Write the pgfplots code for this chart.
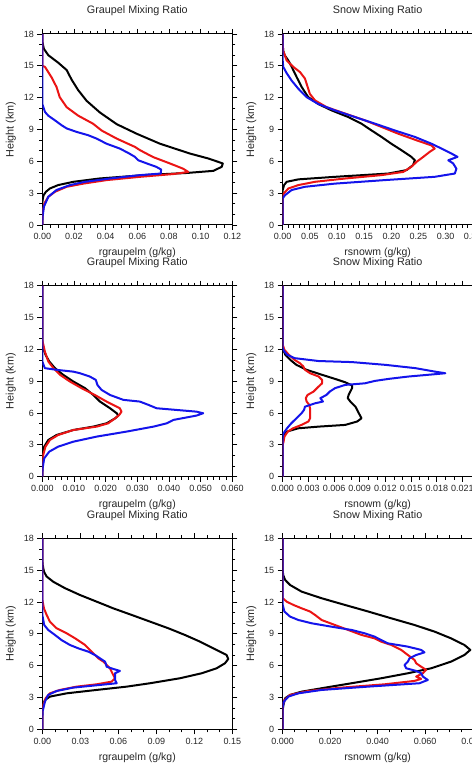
\documentclass[border=0pt]{standalone}
\usepackage{pgfplots}
\pgfplotsset{compat=1.18}
\usepackage{fontspec}
\setmainfont{Liberation Sans}
\definecolor{cred}{RGB}{235,20,20}
\definecolor{cblue}{RGB}{20,20,235}
\pgfplotsset{
  panel/.style={
    width=190pt, height=191pt, scale only axis,
    ymin=0, ymax=18, ytick={0,3,6,9,12,15,18}, minor y tick num=2,
    xmin=0, scaled x ticks=false,
    tick align=outside,
    major tick length=5pt, minor tick length=3pt,
    every tick/.style={black, line width=0.8pt},
    minor tick style={line width=0.6pt},
    axis line style={line width=1pt},
    tick label style={font=\fontsize{9}{10}\selectfont, text=black!85},
    /pgf/number format/assume math mode=true,
    title style={font=\fontsize{10.8}{12}\selectfont, text=black!85, at={(axis description cs:0.5,1.089)}, anchor=center},
    xlabel style={font=\fontsize{10.5}{12}\selectfont, text=black!85, at={(axis description cs:0.5,-0.147)}, anchor=center},
    ylabel style={font=\fontsize{10.8}{12}\selectfont, text=black!85, at={(axis description cs:-0.165,0.5)}, anchor=center, rotate=0},
    ylabel={Height (km)},
    clip=true,
  },
  cb/.style={black, line width=2pt, line join=round},
  cr/.style={cred, line width=2pt, line join=round},
  cu/.style={cblue, line width=2pt, line join=round},
}
\begin{document}
\begin{tikzpicture}
\useasboundingbox (0,0) rectangle (471pt,767pt);

% ---------- Panel 1: Graupel ----------
\begin{axis}[panel, at={(42.3pt,542pt)}, anchor=south west,
  title={Graupel Mixing Ratio}, xlabel={rgraupelm (g/kg)},
  xmax=0.12, xtick={0,0.02,0.04,0.06,0.08,0.10,0.12},
  xticklabels={0.00,0.02,0.04,0.06,0.08,0.10,0.12}, minor x tick num=3]
\addplot[cb] coordinates {(0,0) (0,2.0) (0.0002,2.35) (0.0008,2.8) (0.0023,3.13) (0.0048,3.44) (0.010,3.76) (0.0196,4.07) (0.036,4.38) (0.064,4.7) (0.091,4.9) (0.108,5.1) (0.1133,5.48) (0.114,5.8) (0.105,6.26) (0.0933,6.73) (0.0743,7.66) (0.0596,8.6) (0.047,9.5) (0.0364,10.6) (0.028,11.7) (0.0227,12.7) (0.0185,13.7) (0.0154,14.6) (0.010,15.3) (0.0038,16.0) (0.001,16.6) (0,17.3) (0,18)};
\addplot[cr] coordinates {(0,0) (0.0002,1.1) (0.0013,2.03) (0.0038,2.66) (0.008,3.13) (0.0154,3.6) (0.026,3.9) (0.0406,4.23) (0.0617,4.54) (0.0827,4.8) (0.0922,5.0) (0.089,5.3) (0.0806,5.8) (0.070,6.4) (0.0617,7.05) (0.0585,7.36) (0.047,8.14) (0.0375,8.9) (0.032,9.55) (0.0227,10.3) (0.0154,11.1) (0.011,12.05) (0.009,13.0) (0.0059,13.9) (0.0017,14.9) (0,15.0) (0,18)};
\addplot[cu] coordinates {(0,0) (0.0002,0.78) (0.001,1.72) (0.0038,2.66) (0.009,3.3) (0.0175,3.76) (0.027,4.07) (0.0427,4.38) (0.0617,4.7) (0.0749,4.85) (0.075,5.23) (0.072,5.48) (0.066,5.8) (0.0606,6.1) (0.0585,6.42) (0.055,6.73) (0.049,7.2) (0.0406,7.66) (0.0343,8.14) (0.029,8.46) (0.0217,8.77) (0.0154,9.1) (0.0122,9.4) (0.008,9.86) (0.0038,10.3) (0.0017,10.65) (0,11.4) (0,18)};
\end{axis}

% ---------- Panel 2: Snow ----------
\begin{axis}[panel, at={(282.7pt,542pt)}, anchor=south west,
  title={Snow Mixing Ratio}, xlabel={rsnowm (g/kg)},
  xmax=0.35, xtick={0,0.05,0.10,0.15,0.20,0.25,0.30,0.35},
  xticklabels={0.00,0.05,0.10,0.15,0.20,0.25,0.30,0.35}, minor x tick num=4]
\addplot[cb] coordinates {(0,0) (0,3.3) (0.0025,3.76) (0.0074,4.07) (0.0288,4.3) (0.0963,4.54) (0.1945,4.85) (0.228,5.17) (0.240,5.64) (0.2435,6.1) (0.237,6.42) (0.219,7.04) (0.2,7.66) (0.182,8.3) (0.164,8.9) (0.145,9.55) (0.121,10.17) (0.090,10.8) (0.0656,11.4) (0.047,12.05) (0.035,13.0) (0.0258,13.93) (0.0166,14.9) (0.0104,15.5) (0.004,15.97) (0.001,16.4) (0,17) (0,18)};
\addplot[cr] coordinates {(0,0) (0,2.5) (0.002,2.97) (0.0104,3.44) (0.0288,3.76) (0.0595,4.07) (0.115,4.38) (0.182,4.7) (0.222,5.0) (0.237,5.48) (0.2466,5.95) (0.259,6.42) (0.271,6.9) (0.280,7.2) (0.274,7.5) (0.2466,7.98) (0.213,8.6) (0.182,9.24) (0.1515,9.86) (0.115,10.5) (0.081,11.1) (0.0595,11.74) (0.050,12.36) (0.046,13.0) (0.041,13.8) (0.032,14.4) (0.0196,14.9) (0.0074,15.5) (0.001,16.4) (0,17) (0,18)};
\addplot[cu] coordinates {(0,0) (0,2.5) (0.004,2.8) (0.0166,3.3) (0.041,3.6) (0.0963,3.9) (0.188,4.23) (0.280,4.54) (0.317,4.85) (0.320,5.3) (0.314,5.8) (0.305,6.1) (0.322,6.42) (0.311,6.73) (0.2926,7.2) (0.274,7.66) (0.2435,8.3) (0.207,8.9) (0.170,9.55) (0.133,10.17) (0.0963,10.8) (0.0656,11.4) (0.044,12.05) (0.0288,12.84) (0.0166,13.6) (0.0074,14.3) (0.001,14.9) (0,15.5) (0,18)};
\end{axis}

% ---------- Panel 3: Graupel ----------
\begin{axis}[panel, at={(42.3pt,290.3pt)}, anchor=south west,
  title={Graupel Mixing Ratio}, xlabel={rgraupelm (g/kg)},
  xmax=0.06, xtick={0,0.01,0.02,0.03,0.04,0.05,0.06},
  xticklabels={0.000,0.010,0.020,0.030,0.040,0.050,0.060}, minor x tick num=4]
\addplot[cb] coordinates {(0,0) (0,1.6) (0.0001,2.05) (0.0006,2.83) (0.0019,3.46) (0.0045,3.93) (0.0098,4.4) (0.0161,4.72) (0.0203,5.03) (0.023,5.5) (0.024,5.76) (0.0235,5.98) (0.0214,6.45) (0.0182,7.08) (0.0161,7.7) (0.0135,8.34) (0.0098,8.97) (0.0066,9.6) (0.004,10.23) (0.0022,10.86) (0.001,11.5) (0.0003,12.1) (0,12.74) (0,18)};
\addplot[cr] coordinates {(0,0) (0,1.5) (0.0003,2.05) (0.001,2.83) (0.0024,3.46) (0.005,3.93) (0.0098,4.4) (0.0172,4.72) (0.0208,5.03) (0.023,5.5) (0.0243,5.82) (0.025,6.13) (0.0245,6.45) (0.0203,7.08) (0.0166,7.7) (0.0124,8.34) (0.0087,8.97) (0.0056,9.6) (0.0035,10.23) (0.0019,10.86) (0.0008,11.8) (0.0001,12.74) (0,13) (0,18)};
\addplot[cu] coordinates {(0,0) (0.0001,0.79) (0.0006,1.73) (0.0022,2.36) (0.005,2.83) (0.0098,3.3) (0.0172,3.78) (0.0266,4.25) (0.0351,4.72) (0.0393,5.03) (0.0414,5.35) (0.0487,5.76) (0.0508,5.98) (0.0487,6.13) (0.0361,6.45) (0.0335,6.77) (0.0308,7.08) (0.0256,7.24) (0.0214,7.7) (0.0187,8.18) (0.0174,8.65) (0.0169,9.12) (0.015,9.44) (0.0119,9.75) (0.0098,9.9) (0.0045,10.07) (0.0008,10.23) (0,10.86) (0,18)};
\end{axis}

% ---------- Panel 4: Snow ----------
\begin{axis}[panel, at={(282.7pt,290.3pt)}, anchor=south west,
  title={Snow Mixing Ratio}, xlabel={rsnowm (g/kg)},
  xmax=0.0222, xtick={0,0.003,0.006,0.009,0.012,0.015,0.018,0.021},
  xticklabels={0.000,0.003,0.006,0.009,0.012,0.015,0.018,0.021}, minor x tick num=2]
\addplot[cb] coordinates {(0,0) (0,3.6) (0.0001,3.93) (0.0005,4.25) (0.0018,4.56) (0.0042,4.72) (0.0073,4.88) (0.0087,5.2) (0.0092,5.5) (0.009,5.82) (0.0088,6.13) (0.0085,6.6) (0.0079,7.08) (0.0076,7.4) (0.0077,7.7) (0.0079,8.02) (0.0081,8.34) (0.0081,8.6) (0.0073,8.9) (0.0061,9.22) (0.0046,9.6) (0.0028,10.07) (0.0016,10.54) (0.0009,11.0) (0.0003,11.5) (0,12.1) (0,18)};
\addplot[cr] coordinates {(0,0) (0,3.0) (0.0001,3.3) (0.0002,3.78) (0.0006,4.25) (0.0012,4.56) (0.0022,4.88) (0.003,5.2) (0.0032,5.5) (0.0032,5.98) (0.0032,6.4) (0.0031,6.77) (0.0028,7.08) (0.0027,7.4) (0.0029,7.7) (0.0036,8.02) (0.0042,8.5) (0.0046,8.8) (0.0046,9.12) (0.0042,9.44) (0.0032,9.75) (0.0026,10.07) (0.0024,10.4) (0.002,10.7) (0.0014,11.0) (0.0007,11.5) (0.0002,11.96) (0,12.43) (0,18)};
\addplot[cu] coordinates {(0,0) (0,3.8) (0.0001,4.1) (0.0005,4.56) (0.001,5.03) (0.0016,5.5) (0.0022,5.98) (0.0025,6.3) (0.0026,6.6) (0.0038,6.92) (0.0047,7.08) (0.0044,7.4) (0.0051,7.7) (0.0055,8.02) (0.0061,8.34) (0.0073,8.65) (0.0096,8.8) (0.0108,9.03) (0.0124,9.22) (0.0147,9.44) (0.0178,9.66) (0.019,9.75) (0.0178,9.9) (0.0155,10.23) (0.012,10.54) (0.0081,10.8) (0.0042,10.9) (0.0014,11.17) (0.0005,11.5) (0.0002,11.8) (0,12.1) (0,18)};
\end{axis}

% ---------- Panel 5: Graupel ----------
\begin{axis}[panel, at={(42.3pt,37.7pt)}, anchor=south west,
  title={Graupel Mixing Ratio}, xlabel={rgraupelm (g/kg)},
  xmax=0.15, xtick={0,0.03,0.06,0.09,0.12,0.15},
  xticklabels={0.00,0.03,0.06,0.09,0.12,0.15}, minor x tick num=2]
\addplot[cb] coordinates {(0,0) (0,1.8) (0.0005,2.29) (0.0021,2.76) (0.006,3.08) (0.0192,3.39) (0.0429,3.71) (0.0666,4.02) (0.085,4.34) (0.1087,4.81) (0.1258,5.28) (0.1376,5.75) (0.1442,6.22) (0.1468,6.63) (0.1455,7.0) (0.135,7.63) (0.1245,8.26) (0.1126,8.89) (0.0995,9.52) (0.085,10.15) (0.0705,10.78) (0.056,11.4) (0.0429,12.03) (0.0297,12.66) (0.0179,13.3) (0.0087,13.9) (0.0034,14.4) (0.0013,14.86) (0.0003,15.5) (0,16) (0,18)};
\addplot[cr] coordinates {(0,0) (0,1.8) (0.0008,2.29) (0.0026,2.92) (0.006,3.39) (0.014,3.71) (0.0271,4.02) (0.0429,4.24) (0.0547,4.49) (0.0574,4.81) (0.056,5.12) (0.0547,5.43) (0.0534,5.75) (0.0508,6.06) (0.0482,6.38) (0.0442,6.69) (0.039,7.32) (0.0337,7.95) (0.0258,8.58) (0.0192,9.05) (0.0113,9.52) (0.006,10.15) (0.0034,10.78) (0.0013,11.4) (0.0003,12.03) (0,12.3) (0,18)};
\addplot[cu] coordinates {(0,0) (0.0002,1.67) (0.0021,2.61) (0.0047,3.24) (0.0113,3.61) (0.0245,3.93) (0.0455,4.18) (0.0587,4.34) (0.0574,4.65) (0.0574,4.97) (0.0574,5.28) (0.0613,5.5) (0.056,5.69) (0.0508,5.9) (0.0503,6.13) (0.0495,6.38) (0.0455,6.69) (0.0416,7.0) (0.0363,7.32) (0.0284,7.63) (0.0218,7.95) (0.0153,8.4) (0.010,8.89) (0.0047,9.36) (0.0015,9.83) (0,10.78) (0,18)};
\end{axis}

% ---------- Panel 6: Snow ----------
\begin{axis}[panel, at={(282.7pt,37.7pt)}, anchor=south west,
  title={Snow Mixing Ratio}, xlabel={rsnowm (g/kg)},
  xmax=0.08, xtick={0,0.02,0.04,0.06,0.08},
  xticklabels={0.000,0.020,0.040,0.060,0.080}, minor x tick num=3]
\addplot[cb] coordinates {(0,0) (0,1.8) (0.0003,2.29) (0.001,2.92) (0.0031,3.24) (0.008,3.55) (0.0164,3.87) (0.029,4.34) (0.0415,4.81) (0.0527,5.28) (0.0625,5.75) (0.0709,6.38) (0.0765,7.0) (0.079,7.48) (0.0765,7.95) (0.0709,8.57) (0.064,9.2) (0.0555,9.83) (0.0457,10.46) (0.036,11.1) (0.0262,11.72) (0.0164,12.35) (0.008,12.97) (0.0031,13.6) (0.001,14.08) (0.0002,14.55) (0,15) (0,18)};
\addplot[cr] coordinates {(0,0) (0,2.2) (0.0007,2.76) (0.0031,3.24) (0.0108,3.61) (0.0248,3.93) (0.0429,4.24) (0.0555,4.56) (0.0583,4.75) (0.0562,4.97) (0.059,5.28) (0.0604,5.6) (0.0583,5.9) (0.0562,6.22) (0.0555,6.53) (0.0527,7.0) (0.0499,7.48) (0.0457,7.95) (0.0415,8.26) (0.0387,8.57) (0.0332,8.89) (0.0276,9.36) (0.022,9.83) (0.0164,10.3) (0.0136,10.78) (0.0115,11.1) (0.008,11.4) (0.0045,11.72) (0.0017,12.03) (0,12.35) (0,18)};
\addplot[cu] coordinates {(0,0) (0,2.1) (0.0005,2.61) (0.0024,3.08) (0.0066,3.39) (0.0164,3.71) (0.0359,4.02) (0.0576,4.34) (0.0611,4.65) (0.059,4.97) (0.0583,5.28) (0.0562,5.5) (0.052,5.75) (0.0513,6.06) (0.0527,6.38) (0.0534,6.69) (0.0562,7.0) (0.0597,7.25) (0.0583,7.48) (0.0527,7.79) (0.0443,8.1) (0.0415,8.41) (0.0387,8.73) (0.0345,9.05) (0.029,9.36) (0.0206,9.67) (0.0122,9.99) (0.0066,10.3) (0.0031,10.62) (0.0007,11.1) (0,11.72) (0,18)};
\end{axis}
\end{tikzpicture}
\end{document}
